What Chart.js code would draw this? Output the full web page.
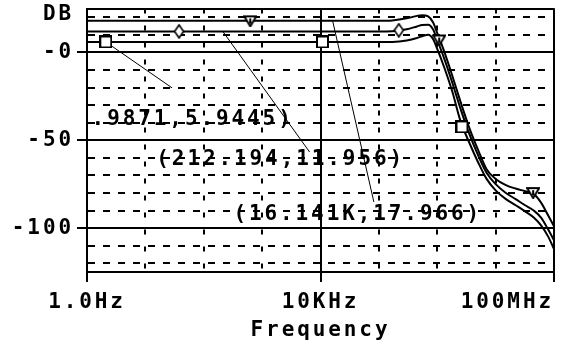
<!DOCTYPE html>
<html><head><meta charset="utf-8">
<script src="https://cdn.jsdelivr.net/npm/chart.js@4"></script>
<style>html,body{margin:0;padding:0;background:#fff;} canvas{display:block;}</style>
</head><body>
<canvas id="c" width="561" height="348"></canvas>
<script>
// ---- data ----
const freqHz   = [1, 1e3, 1e5, 1.7e5, 3e5, 4.5e5, 5.5e5, 7e5, 8.5e5, 1e6, 1.3e6, 1.8e6, 2.5e6, 3.5e6, 5e6, 7e6, 1e7, 1.5e7, 2.2e7, 3.2e7, 4.5e7, 6e7, 8e7, 1e8];
const gainLow  = [5.9445, 5.9445, 5.95, 6.0, 6.8, 8.2, 9.2, 10.0, 7.5, 2, -8, -22, -39, -51, -62.5, -72, -78.5, -83.5, -87, -90.5, -94, -98.5, -105, -112];
const gainMid  = [11.956, 11.956, 11.96, 12.1, 13.2, 14.8, 15.6, 15.8, 13, 7, -3, -17, -32, -46, -58.5, -68.5, -75, -80, -83.5, -87, -90, -94, -101, -107];
const gainHigh = [17.966, 17.966, 17.97, 18.2, 19.4, 20.8, 21.2, 20.5, 17, 11, 1, -13, -28, -42.5, -55.5, -66.5, -72, -75.5, -77.5, -79, -80.5, -85.5, -93, -99];

const squareHz   = [2.1, 1.08e4, 2.65e6];
const squareDb   = [5.9445, 5.9445, -42.4];
const diamondHz  = [37.7, 2.2e5];
const diamondDb  = [11.956, 12.6];
const triangleHz = [626, 1.08e6, 4.4e7];
const triangleDb = [17.966, 7.1, -79.8];

const xTickHz   = [1, 10, 100, 1e3, 1e4, 1e5, 1e6, 1e7, 1e8];
const xTickText = ['1.0Hz', '', '', '', '10KHz', '', '', '', '100MHz      '];
const xMajorHz  = [1e4, 1e8];
const yTickDb   = [-120, -110, -100, -90, -80, -70, -60, -50, -40, -30, -20, -10, 0, 10, 20, 25];
const yTickText = ['', '', '-100', '', '', '', '', '-50', '', '', '', '', '-0', '', '', 'DB'];
const yMajorDb  = [-100, -50, 0, 25];

const noteText = ['(.9871,5.9445)', '(212.194,11.956)', '(16.141K,17.966)'];
const noteHz   = [0.65, 15.4, 322];
const noteDb   = [-38.4, -61.2, -92.5];
const leaderFromHz = [2.1, 212.194, 16141];
const leaderFromDb = [5.9445, 11.956, 17.966];
const leaderToHz   = [28.7, 6510, 8.2e4];
const leaderToDb   = [-20.2, -56.7, -85.1];

// ---- styling ----
const FONT = {family: "'DejaVu Sans Mono', monospace", size: 21, weight: 'bold'};
const SPACING = '2.9px';
const INK = '#000';

function mk(w, h, draw) {
  const c = document.createElement('canvas'); c.width = w; c.height = h;
  const g = c.getContext('2d'); draw(g); return c;
}
const squareImg = mk(13, 13, g => {
  g.fillStyle = '#fff'; g.fillRect(0, 0, 13, 13);
  g.strokeStyle = INK; g.lineWidth = 2; g.strokeRect(1, 1, 11, 11);
});
const diamondImg = mk(11, 15, g => {
  g.beginPath(); g.moveTo(5.5, 1); g.lineTo(10, 7.5); g.lineTo(5.5, 14); g.lineTo(1, 7.5); g.closePath();
  g.fillStyle = '#fff'; g.fill(); g.strokeStyle = INK; g.lineWidth = 1.6; g.stroke();
});
const triangleImg = mk(14, 13, g => {
  g.beginPath(); g.moveTo(1, 2); g.lineTo(13, 2); g.lineTo(7, 12); g.closePath();
  g.fillStyle = '#fff'; g.fill(); g.strokeStyle = INK; g.lineWidth = 2; g.stroke();
  g.beginPath(); g.moveTo(7, 4); g.lineTo(7, 9); g.lineWidth = 2; g.stroke();
});

const pts = (xs, ys) => xs.map((x, i) => ({x, y: ys[i]}));
const traceDs = (ys) => ({
  type: 'line', data: pts(freqHz, ys), borderColor: INK, borderWidth: 2,
  pointRadius: 0, cubicInterpolationMode: 'monotone', fill: false, order: 1,
  xAxisID: 'x', yAxisID: 'y'
});
const markDs = (xs, ys, img) => ({
  type: 'line', data: pts(xs, ys), showLine: false, pointStyle: img, pointRadius: 6,
  borderColor: INK, backgroundColor: '#fff', order: 0, xAxisID: 'x', yAxisID: 'y'
});

const notesPlugin = {
  id: 'notes',
  beforeDraw(chart) { chart.ctx.letterSpacing = SPACING; },
  beforeDatasetsDraw(chart) {
    const {ctx, chartArea: a, scales: {x, y}} = chart;
    ctx.save();
    ctx.beginPath(); ctx.rect(a.left, a.top, a.right - a.left, a.bottom - a.top); ctx.clip();
    ctx.strokeStyle = INK; ctx.lineWidth = 1;
    for (let i = 0; i < leaderFromHz.length; i++) {
      ctx.beginPath();
      ctx.moveTo(x.getPixelForValue(leaderFromHz[i]), y.getPixelForValue(leaderFromDb[i]));
      ctx.lineTo(x.getPixelForValue(leaderToHz[i]), y.getPixelForValue(leaderToDb[i]));
      ctx.stroke();
    }
    ctx.restore();
  },
  afterDatasetsDraw(chart) {
    const {ctx, chartArea: a, scales: {x, y}} = chart;
    ctx.save();
    ctx.beginPath(); ctx.rect(a.left, a.top, a.right - a.left, a.bottom - a.top); ctx.clip();
    ctx.letterSpacing = SPACING;
    ctx.font = `bold ${FONT.size}px ${FONT.family}`;
    ctx.fillStyle = INK; ctx.textAlign = 'left'; ctx.textBaseline = 'middle';
    for (let i = 0; i < noteText.length; i++) {
      ctx.fillText(noteText[i], x.getPixelForValue(noteHz[i]), y.getPixelForValue(noteDb[i]));
    }
    ctx.restore();
  }
};

new Chart(document.getElementById('c'), {
  type: 'line',
  data: {
    datasets: [
      markDs(squareHz, squareDb, squareImg),
      markDs(diamondHz, diamondDb, diamondImg),
      markDs(triangleHz, triangleDb, triangleImg),
      traceDs(gainLow), traceDs(gainMid), traceDs(gainHigh)
    ]
  },
  options: {
    responsive: false, animation: false, devicePixelRatio: 1,
    layout: {padding: {top: 8.5, right: 2, left: 0, bottom: 0}},
    plugins: {legend: {display: false}, tooltip: {enabled: false}},
    scales: {
      x: {
        type: 'logarithmic', min: 1, max: 1e8, position: 'bottom',
        afterBuildTicks: s => { s.ticks = xTickHz.map(v => ({value: v})); },
        afterFit: s => { s.height = 76; s.paddingLeft = 0; s.paddingRight = 0; },
        ticks: {
          autoSkip: false, maxRotation: 0, minRotation: 0, padding: 8, color: INK, font: FONT,
          callback: (v, i) => xTickText[xTickHz.indexOf(v)] ?? ''
        },
        grid: {
          color: INK, lineWidth: 2, tickLength: 10, tickWidth: 2,
          tickColor: c => (c.tick && xTickText[xTickHz.indexOf(c.tick.value)]) ? INK : 'rgba(0,0,0,0)'
        },
        border: {display: true, color: INK, width: 2, dash: [5, 12]},
        title: {display: true, text: 'Frequency', color: INK, font: FONT, padding: {top: 0, bottom: 5}}
      },
      x2: {
        type: 'logarithmic', min: 1, max: 1e8, position: 'bottom',
        afterBuildTicks: s => { s.ticks = xMajorHz.map(v => ({value: v})); },
        afterFit: s => { s.height = 0; s.paddingLeft = 0; s.paddingRight = 0; },
        ticks: {display: false},
        grid: {color: INK, lineWidth: 2, drawTicks: false},
        border: {display: false}
      },
      y: {
        type: 'linear', min: -125, max: 25, position: 'left',
        afterBuildTicks: s => { s.ticks = yTickDb.map(v => ({value: v})); },
        afterFit: s => { s.width = 87; s.paddingTop = 0; s.paddingBottom = 0; },
        ticks: {
          autoSkip: false, padding: 3, color: INK,
          font: c => (c.tick && c.tick.value === 25) ? Object.assign({}, FONT, {lineHeight: '12px'}) : FONT,
          callback: (v) => { const t = yTickText[yTickDb.indexOf(v)] ?? ''; return v === 25 ? ['', t] : t; }
        },
        grid: {
          color: INK, lineWidth: 2, tickLength: 10, tickWidth: 2,
          tickColor: c => (c.tick && c.tick.value !== 25 && yTickText[yTickDb.indexOf(c.tick.value)]) ? INK : 'rgba(0,0,0,0)'
        },
        border: {display: true, color: INK, width: 2, dash: [7, 8]}
      },
      y2: {
        type: 'linear', min: -125, max: 25, position: 'left',
        afterBuildTicks: s => { s.ticks = yMajorDb.map(v => ({value: v})); },
        afterFit: s => { s.width = 0; s.paddingTop = 0; s.paddingBottom = 0; },
        ticks: {display: false},
        grid: {color: INK, lineWidth: 2, drawTicks: false},
        border: {display: false}
      }
    }
  },
  plugins: [notesPlugin]
});
</script>
</body></html>
